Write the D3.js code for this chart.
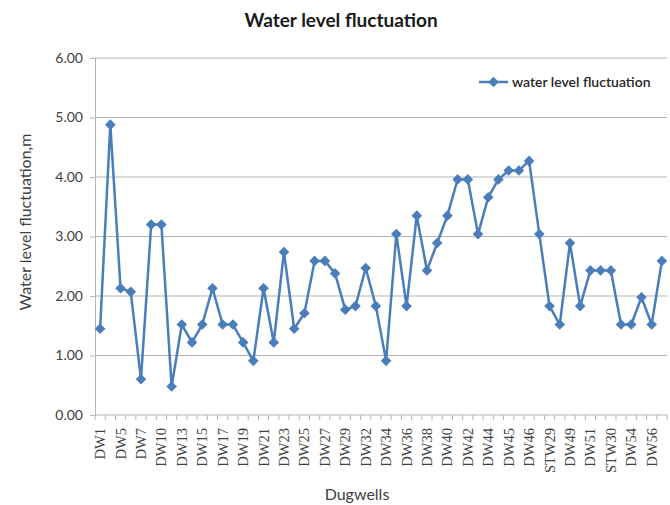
<!DOCTYPE html>
<html>
<head>
<meta charset="utf-8">
<script src="https://cdn.jsdelivr.net/npm/d3@7"></script>
<style>
  body { margin: 0; background: #fff; }
  svg { display: block; }
</style>
</head>
<body>
<svg id="svg"></svg>
<script>
////////////////////////////////////////////////////////////////////////
// Data

let wells = [
  "DW1", "DW3", "DW5", "DW6", "DW7", "DW8", "DW10", "DW11",
  "DW13", "DW14", "DW15", "DW16", "DW17", "DW18", "DW19", "DW20",
  "DW21", "DW22", "DW23", "DW24", "DW25", "DW26", "DW27", "DW28",
  "DW29", "DW31", "DW32", "DW33", "DW34", "DW35", "DW36", "DW37",
  "DW38", "DW39", "DW40", "DW41", "DW42", "DW43", "DW44", "STW27",
  "DW45", "STW28", "DW46", "DW47", "STW29", "DW48", "DW49", "DW50",
  "DW51", "DW52", "STW30", "DW53", "DW54", "DW55", "DW56", "DW57"
];

let fluctuation = [
  1.45, 4.88, 2.13, 2.07, 0.60, 3.20, 3.20, 0.48,
  1.52, 1.22, 1.52, 2.13, 1.52, 1.52, 1.22, 0.91,
  2.13, 1.22, 2.74, 1.45, 1.71, 2.59, 2.59, 2.38,
  1.77, 1.83, 2.47, 1.83, 0.91, 3.04, 1.83, 3.35,
  2.43, 2.89, 3.35, 3.96, 3.96, 3.04, 3.66, 3.96,
  4.11, 4.11, 4.27, 3.04, 1.83, 1.52, 2.89, 1.83,
  2.43, 2.43, 2.43, 1.52, 1.52, 1.98, 1.52, 2.59
];

let yTicks = [0, 1, 2, 3, 4, 5, 6];

let seriesName = "water level fluctuation";

////////////////////////////////////////////////////////////////////////
// Layout

let width = 670, height = 505;
let margin = { left: 95, right: 3, top: 58, bottom: 90 };
let lineColor = "#4a7ebb";
let gridColor = "#b3b3b3";
let sans = "Lato, 'Open Sans', sans-serif";

let svg = d3.select("#svg")
            .attr("width", width)
            .attr("height", height);

let x = d3.scaleBand()
          .domain(wells)
          .range([margin.left, width - margin.right]);

let y = d3.scaleLinear()
          .domain([0, 6])
          .range([height - margin.bottom, margin.top]);

// gridlines
svg.append("g")
   .selectAll("line")
   .data(yTicks.slice(1))
   .enter()
   .append("line")
   .attr("x1", margin.left)
   .attr("x2", width - margin.right)
   .attr("y1", d => y(d))
   .attr("y2", d => y(d))
   .attr("stroke", gridColor)
   .attr("stroke-width", 1.2);

// y axis
let yAxis = svg.append("g")
   .attr("transform", "translate(" + margin.left + ",0)")
   .call(d3.axisLeft(y).tickValues(yTicks).tickFormat(d3.format(".2f")).tickSize(5).tickPadding(7));
yAxis.select(".domain").attr("stroke", gridColor);
yAxis.selectAll(".tick line").attr("stroke", gridColor);
yAxis.selectAll("text")
     .attr("fill", "#404040")
     .style("font-family", sans)
     .style("font-size", "14px");

// x axis: tick marks sit between categories, labels every other category
let xAxisG = svg.append("g")
   .attr("transform", "translate(0," + y(0) + ")");

xAxisG.append("line")
   .attr("x1", margin.left)
   .attr("x2", width - margin.right)
   .attr("stroke", gridColor)
   .attr("stroke-width", 1.2);

let boundaries = wells.map(w => x(w)).concat([x(wells[wells.length - 1]) + x.bandwidth()]);
xAxisG.selectAll(".xtick")
   .data(boundaries)
   .enter()
   .append("line")
   .attr("class", "xtick")
   .attr("x1", d => d)
   .attr("x2", d => d)
   .attr("y1", 0)
   .attr("y2", 5)
   .attr("stroke", gridColor);

xAxisG.selectAll(".xlabel")
   .data(wells.filter((w, i) => i % 2 === 0))
   .enter()
   .append("text")
   .attr("class", "xlabel")
   .attr("transform", d => "translate(" + (x(d) + x.bandwidth() / 2 + 5) + ",13) rotate(-90)")
   .attr("text-anchor", "end")
   .attr("fill", "#404040")
   .style("font-family", "'Liberation Serif', 'DejaVu Serif', serif")
   .style("font-size", "14.5px")
   .text(d => d);

// series line
let line = d3.line()
             .x((d, i) => x(wells[i]) + x.bandwidth() / 2)
             .y(d => y(d));

svg.append("path")
   .datum(fluctuation)
   .attr("d", line)
   .attr("fill", "none")
   .attr("stroke", lineColor)
   .attr("stroke-width", 2.5)
   .attr("stroke-linejoin", "round");

let diamond = d3.symbol().type(d3.symbolDiamond2).size(72);

svg.append("g")
   .selectAll("path")
   .data(fluctuation)
   .enter()
   .append("path")
   .attr("d", diamond)
   .attr("transform", (d, i) => "translate(" + (x(wells[i]) + x.bandwidth() / 2) + "," + y(d) + ")")
   .attr("fill", lineColor);

// legend
let legend = svg.append("g").attr("transform", "translate(479,82)");
legend.append("line")
      .attr("x1", 0).attr("x2", 29)
      .attr("stroke", lineColor)
      .attr("stroke-width", 2.5);
legend.append("path")
      .attr("d", diamond)
      .attr("transform", "translate(14.5,0)")
      .attr("fill", lineColor);
legend.append("text")
      .attr("x", 33)
      .attr("y", 5)
      .attr("fill", "#262626")
      .style("font-family", sans)
      .style("font-size", "14px")
      .style("font-weight", "600")
      .text(seriesName);

// titles
svg.append("text")
   .attr("x", 341)
   .attr("y", 27)
   .attr("text-anchor", "middle")
   .attr("fill", "#1a1a1a")
   .style("font-family", sans)
   .style("font-size", "19px")
   .style("font-weight", "bold")
   .text("Water level fluctuation");

svg.append("text")
   .attr("x", 357)
   .attr("y", 500)
   .attr("text-anchor", "middle")
   .attr("fill", "#404040")
   .style("font-family", sans)
   .style("font-size", "16px")
   .text("Dugwells");

svg.append("text")
   .attr("transform", "translate(31,222) rotate(-90)")
   .attr("text-anchor", "middle")
   .attr("fill", "#404040")
   .style("font-family", sans)
   .style("font-size", "16px")
   .text("Water level fluctuation,m");
</script>
</body>
</html>
